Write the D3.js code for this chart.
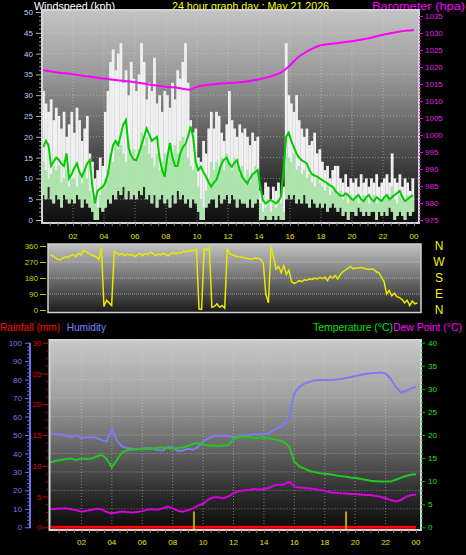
<!DOCTYPE html>
<html><head><meta charset="utf-8">
<script src="https://cdn.jsdelivr.net/npm/d3@7"></script>
<style>
html,body{margin:0;padding:0;background:#000;}
svg{display:block;}
text{font-family:"Liberation Sans",Arial,sans-serif;}
</style></head><body>
<svg id="c" width="466" height="555"></svg>
<script>
// ---------------- DATA ----------------
const windStepHours = 1/6;   // 10-minute samples
const windGust = [
 31,28,26,29,24,27, 25,22,26,20,23,26, 21,27,24,19,22,25, 16,14,10,12,15,13,
 26,31,38,41,36,40, 42.5,33,36,30,38,34, 31,35,42.5,38,29,33, 31,39,28,30,26,31,
 30,27,33,29,36,34, 38,42.5,33,24,21,22, 15,14,19,16,22,26, 22,26,25,21,19,23,
 31,24,22,20,23,21, 22,20,18,21,19,20, 7,6,9,8,5,8, 7,9,6,8,42.5,30,
 28,26,30,24,22,20, 22,18,19,21,16,17, 14,12,13,10,12,13, 13,10,9,11,8,10,
 9,10,8,11,9,10, 8,10,9,11,8,9, 10,11,9,16,10,9, 11,8,10,9,7,10];
const windSpeed = [
 14,12,10,11,13,12, 13,9,10,12,8,10, 10,8,11,9,12,10, 7,5,6,3,6,8,
 10,12,16,14,19,17, 18,16,14,19,15,17, 15,17,21,18,20,16, 15,13,16,12,14,16,
 14,17,15,18,16,19, 20,18,15,13,12,14, 8,5,3,7,10,14, 12,14,13,15,12,16,
 14,12,15,13,11,13, 10,12,9,11,13,11, 4,2,3,5,2,4, 3,5,4,2,16,15,
 14,16,12,13,11,12, 10,11,9,8,10,9, 8,7,9,6,7,8, 6,7,5,6,4,6,
 5,6,4,5,6,5, 4,5,6,4,5,4, 5,6,5,8,5,4, 6,5,4,6,5,6];
const windLull = [
 6,5,8,5,4,6, 5,3,6,5,4,5, 4,6,5,3,5,4, 3,2,0,0,3,2,
 3,5,4,6,5,7, 6,8,5,7,5,6, 5,7,6,8,5,6, 4,6,3,5,6,4,
 5,3,6,4,7,5, 6,4,5,3,5,4, 2,0,0,3,4,5, 5,3,6,4,5,6,
 4,6,5,3,5,4, 4,3,5,3,4,5, 0,0,1,0,0,1, 0,1,0,0,5,6,
 5,6,4,5,4,6, 4,3,5,4,3,4, 3,4,2,3,4,3, 2,3,1,2,0,2,
 2,1,3,2,1,2, 1,2,2,0,2,1, 2,1,3,2,0,1, 2,1,0,2,1,2];
const windAvg = [
 17.5,19,18,13,14,15, 14.5,13.5,13,16,10,11, 12.5,13.6,11.5,10.4,12,13.6, 14.4,8,4,7,7.5,8,
 9,11,15,18,19,18, 20.5,23,24,17.5,15.5,14.5, 14.4,16,18,20,22,20.5, 19,19.5,20,15,12,10.4,
 15,18.5,15,13,13,16, 17.5,18.2,20,22.5,20,14, 12,12.8,11.5,10.4,9,8, 9,9.6,11.5,13.6,14.5,15,
 13.5,12.8,13.8,14.4,12,10.4, 9.5,8.8,10,11,11.5,12, 8,4.8,4,4.4,4.8,4.4, 4,4.5,5.6,12,20,21,
 19,17.5,16,15,14.4,14, 13.6,12,11,10.7,10.4,10, 9.6,9.2,8.8,8.3,8,7, 6.4,5.8,5.8,6.4,6,5.2,
 4.8,5.5,6,5,4.5,5.5, 6,5,4.5,5.5,5,4.5, 5.5,6,5,5.5,6,6.5, 7,5.5,4.5,5,5.5,6];
const baroHours  = [0,1,2,3,4,5,6,7,8,9,9.5,10,11,12,13,14,15,15.5,16,16.5,17,18,19,20,21,22,23,24];
const baroValues = [1019.1,1018.4,1017.9,1017.2,1016.6,1016.0,1015.5,1014.8,1014.2,1013.7,1013.3,1014.2,
 1014.9,1015.3,1015.6,1016.4,1017.6,1018.6,1020.5,1022.8,1024.3,1026.4,1027.0,1027.6,1028.4,1029.5,1030.4,1030.9];
const windDir = [
 310,305,295,285,282,292, 300,296,305,312,300,318, 310,335,328,320,312,305, 300,285,355,20,55,40,
 25,330,320,310,318,305, 315,308,312,300,310,318, 305,320,312,325,318,305, 315,310,320,312,305,318,
 322,315,325,320,332,325, 335,330,338,342,5,3, 345,338,350,15,20,35, 15,25,10,345,315,310,
 305,300,298,295,292,290, 285,288,292,290,285,265, 90,40,355,300,230,245, 210,250,200,225,160,150,
 155,165,160,170,168,175, 172,180,175,182,178,185, 165,190,180,195,175,200, 215,225,235,245,232,238,
 235,240,235,232,228,230, 228,215,210,185,160,90, 110,80,95,75,70,60, 40,55,25,50,35,40];
const thStepHours = 1/3;   // 20-minute samples
const humidity = [
 51,50.6,50.4,49.5,49,50,48.3,48.6,49,48.5,47.2,46.5,53.5,47,43.8,42.9,42.6,42.4,42.7,42.8,
 42.5,41.8,41.5,43.5,43.2,41.3,41.6,42.5,42,43.5,46.5,48.2,49.3,49.5,49.5,49.5,48.8,49.2,49.8,50.2,
 50.4,50.5,50.6,50.9,52.8,54.2,55.6,60,72.5,76,77.8,78.8,79.7,79.8,79.8,79.8,79.9,80.4,80.7,81.3,
 82,82.5,83,83.4,83.6,83.8,83.3,80.5,76,73.1,73.8,75.2,76.2];
const temperature = [
 14.1,14.4,14.6,14.8,14.9,14.6,14.9,14.8,14.9,15.4,15.7,14.8,13.0,14.6,16.2,16.7,16.8,16.9,17.0,17.1,
 17.1,17.2,17.3,17.2,17.1,17.2,17.3,17.6,18.1,18.2,18.0,17.8,17.7,17.6,17.7,17.8,19.1,19.5,19.7,19.6,
 19.3,19.4,19.5,19.3,19.1,18.8,18.5,17.5,14.2,13.2,12.7,12.2,12.0,11.7,11.6,11.5,11.3,11.1,11.0,10.8,
 10.7,10.5,10.3,10.1,10.0,9.9,9.9,9.9,10.3,10.7,11.1,11.4,11.5];
const dewPoint = [
 3.9,4.0,4.1,4.1,3.9,3.7,3.4,3.6,3.8,4.0,3.9,3.3,3.0,3.2,3.4,3.3,3.2,3.3,3.5,3.8,
 3.9,3.8,4.1,4.5,4.1,3.6,3.4,3.7,4.1,4.7,5.1,6.0,6.5,6.5,6.3,6.7,7.4,7.8,8.0,8.1,
 8.3,8.2,8.3,8.5,9.1,9.2,9.3,9.9,8.8,8.6,8.5,8.4,8.3,8.1,7.9,7.6,7.5,7.4,7.3,7.2,
 7.2,7.1,7.0,7.0,6.8,6.6,6.3,5.9,5.6,5.9,6.6,7.0,7.1];
const rainHours = [0, 24];
const rainfall  = [0, 0];
const markerHours = [9.4, 19.4];
const timeTickHours  = [2,4,6,8,10,12,14,16,18,20,22,24];
const timeTickLabels = ["02","04","06","08","10","12","14","16","18","20","22","00"];
const windTicks = [0,5,10,15,20,25,30,35,40,45,50];
const baroTicks = [975,980,985,990,995,1000,1005,1010,1015,1020,1025,1030,1035];
const dirTicks  = [0,90,180,270,360];
const compassLabels  = ["N","W","S","E","N"];
const compassDegrees = [360,270,180,90,0];
const humTicks  = [0,10,20,30,40,50,60,70,80,90,100];
const rainTicks = [0,5,10,15,20,25,30];
const tempTicks = [0,5,10,15,20,25,30,35,40];

// ---------------- SCALES ----------------
const xW = d3.scaleLinear().domain([0,24]).range([42,414]);
const yW = d3.scaleLinear().domain([0,50]).range([220,12]);
const yB = d3.scaleLinear().domain([975,1035]).range([220,16]);
const xD = d3.scaleLinear().domain([0,24]).range([50,420]);
const yD = d3.scaleLinear().domain([0,360]).range([310,246]);
const xT = d3.scaleLinear().domain([0,24]).range([51,416]);
const yH = d3.scaleLinear().domain([0,100]).range([527.3,342.7]);
const yR = d3.scaleLinear().domain([0,30]).range([527.3,342.7]);
const yT = d3.scaleLinear().domain([0,40]).range([527.3,342.7]);

const svg = d3.select("#c");
svg.append("rect").attr("width",466).attr("height",555).attr("fill","#000");
const defs = svg.append("defs");
function grad(id, stops){
  const g = defs.append("linearGradient").attr("id",id).attr("x1",0).attr("y1",0).attr("x2",0).attr("y2",1);
  stops.forEach(s=>g.append("stop").attr("offset",s[0]).attr("stop-color",s[1]));
}
grad("gW",[[0,"#c4c4c4"],[0.3,"#9a9a9a"],[0.6,"#5a5a5a"],[0.85,"#262626"],[1,"#0e0e0e"]]);
grad("gD",[[0,"#c2c2c2"],[0.5,"#707070"],[1,"#1a1a1a"]]);
grad("gT",[[0,"#c8c8c8"],[0.3,"#a0a0a0"],[0.55,"#6a6a6a"],[0.8,"#2e2e2e"],[1,"#0a0a0a"]]);
function clip(id,x,y,w,h){defs.append("clipPath").attr("id",id).append("rect").attr("x",x).attr("y",y).attr("width",w).attr("height",h);}
clip("cW",42,10,377,213); clip("cD",48,244,373,68.5); clip("cT",49.5,340,371.5,190);

// ---------------- TITLES ----------------
function title(txt,x,y,color,len,anchor){
  svg.append("text").attr("x",x).attr("y",y).attr("fill",color).style("font-size","11px")
    .attr("textLength",len).attr("lengthAdjust","spacingAndGlyphs").attr("text-anchor",anchor||"start").text(txt);
}
title("Windspeed (kph)",34,9.5,"#ffffff",81);
title("24 hour graph day : May 21 2026",172,9.5,"#ffff00",157);
title("Barometer (hpa)",372,9.5,"#ff00ff",93);
title("Rainfall (mm)",0,331,"#ff0000",60);
title("Humidity",66.7,331,"#8080ff",39.3);
title("Temperature (°C)",313,331,"#00e000",80);
title("Dew Point (°C)",393,331,"#ff00ff",69);

// ---------------- AXIS HELPER ----------------
function drawAxis(tx,ty,gen,lineColor,textColor){
  const g = svg.append("g").attr("transform",`translate(${tx},${ty})`).call(gen);
  g.select(".domain").remove();
  g.selectAll(".tick line").attr("stroke",lineColor);
  g.selectAll(".tick text").attr("fill",textColor).style("font-size","8px")
    .style("font-family","'Liberation Sans',Arial,sans-serif");
  return g;
}
function minorVals(major, n){
  const out=[];
  for(let k=0;k<major.length-1;k++){const a=major[k],b=major[k+1];for(let j=1;j<n;j++)out.push(a+(b-a)*j/n);}
  return out;
}

// ================= WIND PANEL =================
const pW = svg.append("g");
pW.append("rect").attr("x",42).attr("y",10).attr("width",377).attr("height",213).attr("fill","url(#gW)");
const gWc = pW.append("g").attr("clip-path","url(#cW)");
gWc.selectAll("line.hg").data(windTicks.slice(1,-1)).join("line")
  .attr("x1",42).attr("x2",419).attr("y1",d=>yW(d)).attr("y2",d=>yW(d))
  .attr("stroke","#d8d8d8").attr("stroke-opacity",0.5).attr("stroke-dasharray","1,2");
gWc.selectAll("line.vg").data(timeTickHours.slice(0,-1)).join("line")
  .attr("x1",d=>xW(d)).attr("x2",d=>xW(d)).attr("y1",10).attr("y2",223)
  .attr("stroke","#d8d8d8").attr("stroke-opacity",0.5).attr("stroke-dasharray","1,2");
const stepW = xW(windStepHours)-xW(0);
gWc.selectAll("rect.gust").data(windGust).join("rect")
  .attr("x",(d,i)=>xW(i*windStepHours)).attr("width",stepW+0.2)
  .attr("y",d=>yW(d)).attr("height",(d,i)=>Math.max(0,yW(windLull[i])-yW(d)))
  .attr("fill","#f0f0f0");
gWc.selectAll("rect.spd").data(windSpeed).join("rect")
  .attr("x",(d,i)=>xW(i*windStepHours)).attr("width",stepW+0.2)
  .attr("y",d=>yW(d)).attr("height",(d,i)=>Math.max(0,yW(windLull[i])-yW(d)))
  .attr("fill","#ace4ac");
gWc.append("path").datum(windAvg)
  .attr("d",d3.line().x((d,i)=>xW(i*windStepHours)+stepW/2).y(d=>yW(d)))
  .attr("fill","none").attr("stroke","#00cc00").attr("stroke-width",2);
gWc.append("path").datum(baroValues)
  .attr("d",d3.line().x((d,i)=>xW(baroHours[i])).y(d=>yB(d)).curve(d3.curveMonotoneX))
  .attr("fill","none").attr("stroke","#ff00ff").attr("stroke-width",2);
pW.append("rect").attr("x",42).attr("y",10).attr("width",377).attr("height",213)
  .attr("fill","none").attr("stroke","#d4d4d4").attr("stroke-width",2);
drawAxis(41,0,d3.axisLeft(yW).tickValues(windTicks).tickSize(5).tickPadding(3).tickFormat(d3.format("d")),"#b0b0b0","#b8d4f4");
drawAxis(41,0,d3.axisLeft(yW).tickValues(minorVals(windTicks,5)).tickSize(2).tickFormat(""),"#909090","#fff");
drawAxis(419,0,d3.axisRight(yB).tickValues(baroTicks).tickSize(4).tickPadding(2).tickFormat(d3.format("d")),"#e000e0","#e020e0");
drawAxis(419,0,d3.axisRight(yB).tickValues(minorVals(baroTicks,5)).tickSize(2).tickFormat(""),"#c000c0","#fff");
drawAxis(0,223,d3.axisBottom(xW).tickValues(d3.range(0.5,24.5,0.5)).tickSize(3).tickFormat(""),"#808080","#fff");
svg.selectAll("text.xw").data(timeTickLabels).join("text")
  .attr("x",(d,i)=>xW(timeTickHours[i])).attr("y",238.5).attr("text-anchor","middle")
  .attr("fill","#e4e400").style("font-size","8px").text(d=>d);

// ================= DIRECTION PANEL =================
const pD = svg.append("g");
pD.append("rect").attr("x",48).attr("y",244).attr("width",373).attr("height",68.5).attr("fill","url(#gD)");
const gDc = pD.append("g").attr("clip-path","url(#cD)");
gDc.selectAll("line.hg").data(dirTicks.slice(1,-1)).join("line")
  .attr("x1",48).attr("x2",421).attr("y1",d=>yD(d)).attr("y2",d=>yD(d))
  .attr("stroke","#dcdcdc").attr("stroke-opacity",0.55).attr("stroke-dasharray","1,1");
gDc.append("path").datum(windDir)
  .attr("d",d3.line().x((d,i)=>xD(i*windStepHours)).y(d=>yD(d)))
  .attr("fill","none").attr("stroke","#e8e800").attr("stroke-width",1.5);
pD.append("rect").attr("x",48).attr("y",244).attr("width",373).attr("height",68.5)
  .attr("fill","none").attr("stroke","#d0d0d0").attr("stroke-width",1.5);
drawAxis(46,0,d3.axisLeft(yD).tickValues(dirTicks).tickSize(6).tickPadding(2).tickFormat(d3.format("d")),"#c8c800","#d0d000");
svg.selectAll("text.cmp").data(compassLabels).join("text")
  .attr("x",439).attr("y",(d,i)=>yD(compassDegrees[i])).attr("dy","0.36em").attr("text-anchor","middle")
  .attr("fill","#f4f400").style("font-size","12px").text(d=>d);

// ================= TEMPERATURE PANEL =================
const pT = svg.append("g");
pT.append("rect").attr("x",49.5).attr("y",340).attr("width",371.5).attr("height",190).attr("fill","url(#gT)");
const gTc = pT.append("g").attr("clip-path","url(#cT)");
gTc.selectAll("line.hg").data(humTicks.slice(1,-1)).join("line")
  .attr("x1",49.5).attr("x2",421).attr("y1",d=>yH(d)).attr("y2",d=>yH(d))
  .attr("stroke","#d8d8d8").attr("stroke-opacity",0.5).attr("stroke-dasharray","1,2");
gTc.selectAll("line.vg").data(timeTickHours.slice(0,-1)).join("line")
  .attr("x1",d=>xT(d)).attr("x2",d=>xT(d)).attr("y1",340).attr("y2",530)
  .attr("stroke","#d8d8d8").attr("stroke-opacity",0.5).attr("stroke-dasharray","1,2");
function thLine(arr,sc,color){
  gTc.append("path").datum(arr).attr("d",d3.line().x((d,i)=>xT(i*thStepHours)).y(d=>sc(d)))
    .attr("fill","none").attr("stroke",color).attr("stroke-width",2);
}
thLine(humidity,yH,"#7c7cf0");
thLine(temperature,yT,"#20c820");
thLine(dewPoint,yT,"#d800d8");
gTc.append("path").datum(rainfall).attr("d",d3.line().x((d,i)=>xT(rainHours[i])).y(d=>yR(d)))
  .attr("fill","none").attr("stroke","#ff0000").attr("stroke-width",3);
gTc.selectAll("line.mk").data(markerHours).join("line")
  .attr("x1",d=>xT(d)).attr("x2",d=>xT(d)).attr("y1",511.5).attr("y2",530)
  .attr("stroke","#b8a400").attr("stroke-width",2);
pT.append("rect").attr("x",49.5).attr("y",340).attr("width",371.5).attr("height",190)
  .attr("fill","none").attr("stroke","#d4d4d4").attr("stroke-width",2);
svg.append("line").attr("x1",30).attr("x2",30).attr("y1",yH(100)).attr("y2",yH(0)+1)
  .attr("stroke","#7070f0").attr("stroke-width",2);
drawAxis(29,0,d3.axisLeft(yH).tickValues(humTicks).tickSize(4).tickPadding(3).tickFormat(d3.format("d")),"#7070f0","#7878f0");
drawAxis(29,0,d3.axisLeft(yH).tickValues(minorVals(humTicks,5)).tickSize(2).tickFormat(""),"#6060e0","#fff");
drawAxis(48,0,d3.axisLeft(yR).tickValues(rainTicks).tickSize(5).tickPadding(1.5).tickFormat(d3.format("d")),"#d00000","#e80000");
drawAxis(48,0,d3.axisLeft(yR).tickValues(minorVals(rainTicks,4)).tickSize(2).tickFormat(""),"#c00000","#fff");
drawAxis(421,0,d3.axisRight(yT).tickValues(tempTicks).tickSize(4).tickPadding(3).tickFormat(d3.format("d")),"#00c000","#20e020");
drawAxis(421,0,d3.axisRight(yT).tickValues(minorVals(tempTicks,5)).tickSize(2).tickFormat(""),"#00b000","#fff");
drawAxis(0,530,d3.axisBottom(xT).tickValues(d3.range(0.5,24.5,0.5)).tickSize(3).tickFormat(""),"#808080","#fff");
svg.selectAll("text.xt").data(timeTickLabels).join("text")
  .attr("x",(d,i)=>xT(timeTickHours[i])).attr("y",545).attr("text-anchor","middle")
  .attr("fill","#e4e400").style("font-size","8px").text(d=>d);
</script>
</body></html>
